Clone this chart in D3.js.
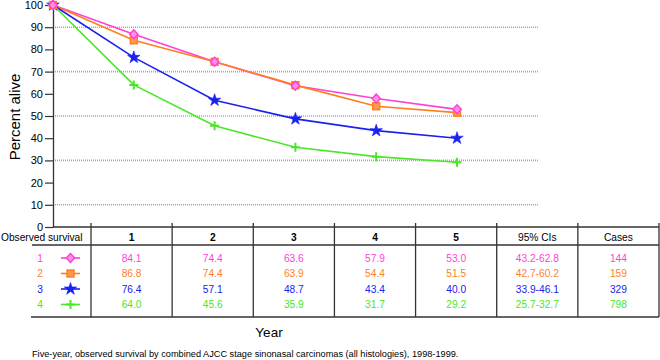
<!DOCTYPE html>
<html><head><meta charset="utf-8">
<script src="https://cdn.jsdelivr.net/npm/d3@7"></script>
<style>
html,body{margin:0;padding:0;background:#fff;}
svg{display:block;font-family:"Liberation Sans",Arial,sans-serif;}
</style></head>
<body><svg id="c" width="660" height="360"></svg>
<script>
// ---- data ----
const years = [0, 1, 2, 3, 4, 5];
const seriesNames = ["1", "2", "3", "4"];
const stage1Values = [100, 86.8, 74.4, 63.6, 57.9, 53.0];
const stage2Values = [100, 84.1, 74.4, 63.9, 54.4, 51.5];
const stage3Values = [100, 76.4, 57.1, 48.7, 43.4, 40.0];
const stage4Values = [100, 64.0, 45.6, 35.9, 31.7, 29.2];
const yTicks = [0, 10, 20, 30, 40, 50, 60, 70, 80, 90, 100];
const gridValues = [10, 30, 50, 70, 90];
const columnHeaders = ["1", "2", "3", "4", "5", "95% CIs", "Cases"];
const tableRow1 = ["84.1", "74.4", "63.6", "57.9", "53.0"];
const tableRow2 = ["86.8", "74.4", "63.9", "54.4", "51.5"];
const tableRow3 = ["76.4", "57.1", "48.7", "43.4", "40.0"];
const tableRow4 = ["64.0", "45.6", "35.9", "31.7", "29.2"];
const ciLabels = ["43.2-62.8", "42.7-60.2", "33.9-46.1", "25.7-32.7"];
const cases = ["144", "159", "329", "798"];
const rowHeader = "Observed survival";
const yTitle = "Percent alive";
const xTitle = "Year";
const caption = "Five-year, observed survival by combined AJCC stage sinonasal carcinomas (all histologies), 1998-1999.";

// ---- styles ----
const colors = ["#ff3fd6", "#ff7f1f", "#1a22ee", "#4ae62a"];
const markerTypes = ["diamond", "square", "star", "plus"];

const svg = d3.select("#c");
const x = d3.scaleLinear().domain([0, 5]).range([53, 457]);
const y = d3.scaleLinear().domain([0, 100]).range([227, 5]);
const col = d3.scaleBand().domain(columnHeaders).range([91, 659]);

// gridlines
svg.append("g").selectAll("line").data(gridValues).join("line")
  .attr("x1", 53).attr("x2", 538)
  .attr("y1", d => y(d)).attr("y2", d => y(d))
  .attr("stroke", "#a8a8a8").attr("stroke-width", 1.6)
  .attr("stroke-dasharray", "1,1");

// y axis
const yAxis = svg.append("g").attr("transform", "translate(53,0)")
  .call(d3.axisLeft(y).tickValues(yTicks).tickSize(8).tickPadding(2).tickSizeOuter(0));
yAxis.select(".domain").attr("stroke", "#333").attr("stroke-width", 1.3);
yAxis.selectAll(".tick line").attr("stroke", "#333").attr("stroke-width", 1.2);
yAxis.selectAll("text").attr("font-size", 11).attr("fill", "#000")
  .attr("font-family", "Liberation Sans, Arial, sans-serif");

svg.append("text").attr("transform", "translate(20,117) rotate(-90)")
  .attr("text-anchor", "middle").attr("font-size", 15).text(yTitle);

// marker drawing
function drawMarker(g, type, color, cx, cy) {
  if (type === "diamond") {
    g.append("path").attr("d", `M${cx},${cy-4.5}L${cx+4.2},${cy}L${cx},${cy+4.5}L${cx-4.2},${cy}Z`)
      .attr("fill", "#ff8fe8").attr("stroke", color).attr("stroke-width", 1.4);
  } else if (type === "square") {
    g.append("rect").attr("x", cx-3.5).attr("y", cy-3.5).attr("width", 7).attr("height", 7)
      .attr("fill", "#ff9a50").attr("stroke", color).attr("stroke-width", 1.4);
  } else if (type === "star") {
    g.append("path").attr("d", d3.symbol().type(d3.symbolStar).size(48)())
      .attr("transform", `translate(${cx},${cy})`)
      .attr("fill", color).attr("stroke", color).attr("stroke-width", 0.6);
  } else {
    g.append("path").attr("d", `M${cx-4.5},${cy}H${cx+4.5}M${cx},${cy-4.5}V${cy+4.5}`)
      .attr("stroke", color).attr("stroke-width", 2).attr("fill", "none");
  }
}

// lines
const allSeries = [stage1Values, stage2Values, stage3Values, stage4Values];
const line = d3.line().x((d, i) => x(years[i])).y(d => y(d));
const plot = svg.append("g");
allSeries.forEach((vals, si) => {
  plot.append("path").attr("d", line(vals)).attr("fill", "none")
    .attr("stroke", colors[si]).attr("stroke-width", 1.6);
});
[3, 2, 1, 0].forEach(si => {
  const g = plot.append("g");
  allSeries[si].forEach((v, i) => drawMarker(g, markerTypes[si], colors[si], x(years[i]), y(v)));
});

// x axis / table top
svg.append("line").attr("x1", 53).attr("x2", 659).attr("y1", 227).attr("y2", 227)
  .attr("stroke", "#333").attr("stroke-width", 1.3);

// table
const tbl = svg.append("g");
const headerLine = 245, tableBottom = 317;
const rowY = [258, 273.5, 289, 304.5];
const boundaries = columnHeaders.map(c => col(c)).concat([col.range()[1]]);
tbl.selectAll("line.v").data(boundaries).join("line").attr("class", "v")
  .attr("x1", d => d).attr("x2", d => d).attr("y1", 223).attr("y2", tableBottom)
  .attr("stroke", "#333").attr("stroke-width", 1.3);
tbl.append("line").attr("x1", 32).attr("x2", 659).attr("y1", headerLine).attr("y2", headerLine)
  .attr("stroke", "#333").attr("stroke-width", 1.3);
tbl.append("line").attr("x1", 31).attr("x2", 659).attr("y1", tableBottom).attr("y2", tableBottom)
  .attr("stroke", "#333").attr("stroke-width", 1.3);

tbl.append("text").attr("x", 1).attr("y", 241).attr("font-size", 10.2).text(rowHeader);
tbl.selectAll("text.h").data(columnHeaders).join("text").attr("class", "h")
  .attr("x", d => col(d) + col.bandwidth() / 2).attr("y", 241)
  .attr("text-anchor", "middle").attr("font-size", 10.2)
  .attr("font-weight", (d, i) => i < 5 ? "bold" : "normal").text(d => d);

const tableRows = [tableRow1, tableRow2, tableRow3, tableRow4];
tableRows.forEach((vals, ri) => {
  const cells = vals.concat([ciLabels[ri], cases[ri]]);
  const yy = rowY[ri];
  tbl.append("text").attr("x", 40).attr("y", yy + 3.5).attr("text-anchor", "middle")
    .attr("font-size", 10.2).attr("fill", colors[ri]).text(seriesNames[ri]);
  tbl.append("line").attr("x1", 61).attr("x2", 80).attr("y1", yy).attr("y2", yy)
    .attr("stroke", colors[ri]).attr("stroke-width", 1.6);
  drawMarker(tbl.append("g"), markerTypes[ri], colors[ri], 70.5, yy);
  tbl.selectAll(null).data(cells).join("text")
    .attr("x", (d, i) => col(columnHeaders[i]) + col.bandwidth() / 2)
    .attr("y", yy + 3.5).attr("text-anchor", "middle").attr("font-size", 10.2)
    .attr("fill", colors[ri]).text(d => d);
});

svg.append("text").attr("x", 269).attr("y", 337).attr("text-anchor", "middle")
  .attr("font-size", 13.5).text(xTitle);
svg.append("text").attr("x", 32).attr("y", 357).attr("font-size", 9.2).text(caption);
</script></body></html>
